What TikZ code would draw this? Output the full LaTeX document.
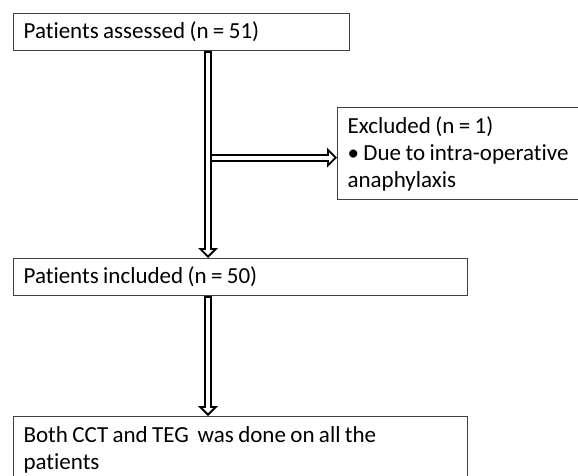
\documentclass[tikz,border=0pt]{standalone}
\usepackage{fontspec}
\setmainfont{Carlito}[Ligatures=NoCommon]
\usetikzlibrary{arrows.meta}

\begin{document}
\begin{tikzpicture}[x=1pt,y=-1pt,
    box/.style={draw=black!75,line width=1.2pt,align=left,anchor=north west,
      inner xsep=10pt,font=\fontsize{23}{27}\selectfont,
      execute at begin node={\spaceskip=4.4pt\relax}},
    hollow/.style={line width=8pt,-{Triangle[length=10pt,width=20pt,line width=0pt]},
      postaction={draw=white,line width=4pt,shorten <=2pt,shorten >=2.8pt,
        -{Triangle[length=5.2pt,width=10.4pt,line width=0pt]}}}]
  \useasboundingbox (0,0) rectangle (578,476);
  \node[box,text width=316pt,minimum height=37pt] (assessed) at (13,13) {Patients assessed (n = 51)};
  \node[box,text width=434pt,minimum height=37pt] (included) at (13,258) {Patients included (n = 50)};
  \node[box,text width=240pt,minimum height=92pt] (excluded) at (337,107)
    {Excluded (n = 1)\\\textbullet{} Due to intra-operative\\anaphylaxis};
  \node[box,text width=434pt,inner ysep=10pt] (both) at (13,416)
    {Both CCT and TEG~ was done on all the\\patients};
  \coordinate (spine) at (208,0);
  \draw[hollow] (assessed.south -| spine) -- (included.north -| spine);
  \draw[hollow] ([xshift=2pt,yshift=-4pt]spine |- excluded.west) -- ([yshift=-4pt]excluded.west);
  \draw[hollow] (included.south -| spine) -- (both.north -| spine);
\end{tikzpicture}
\end{document}
